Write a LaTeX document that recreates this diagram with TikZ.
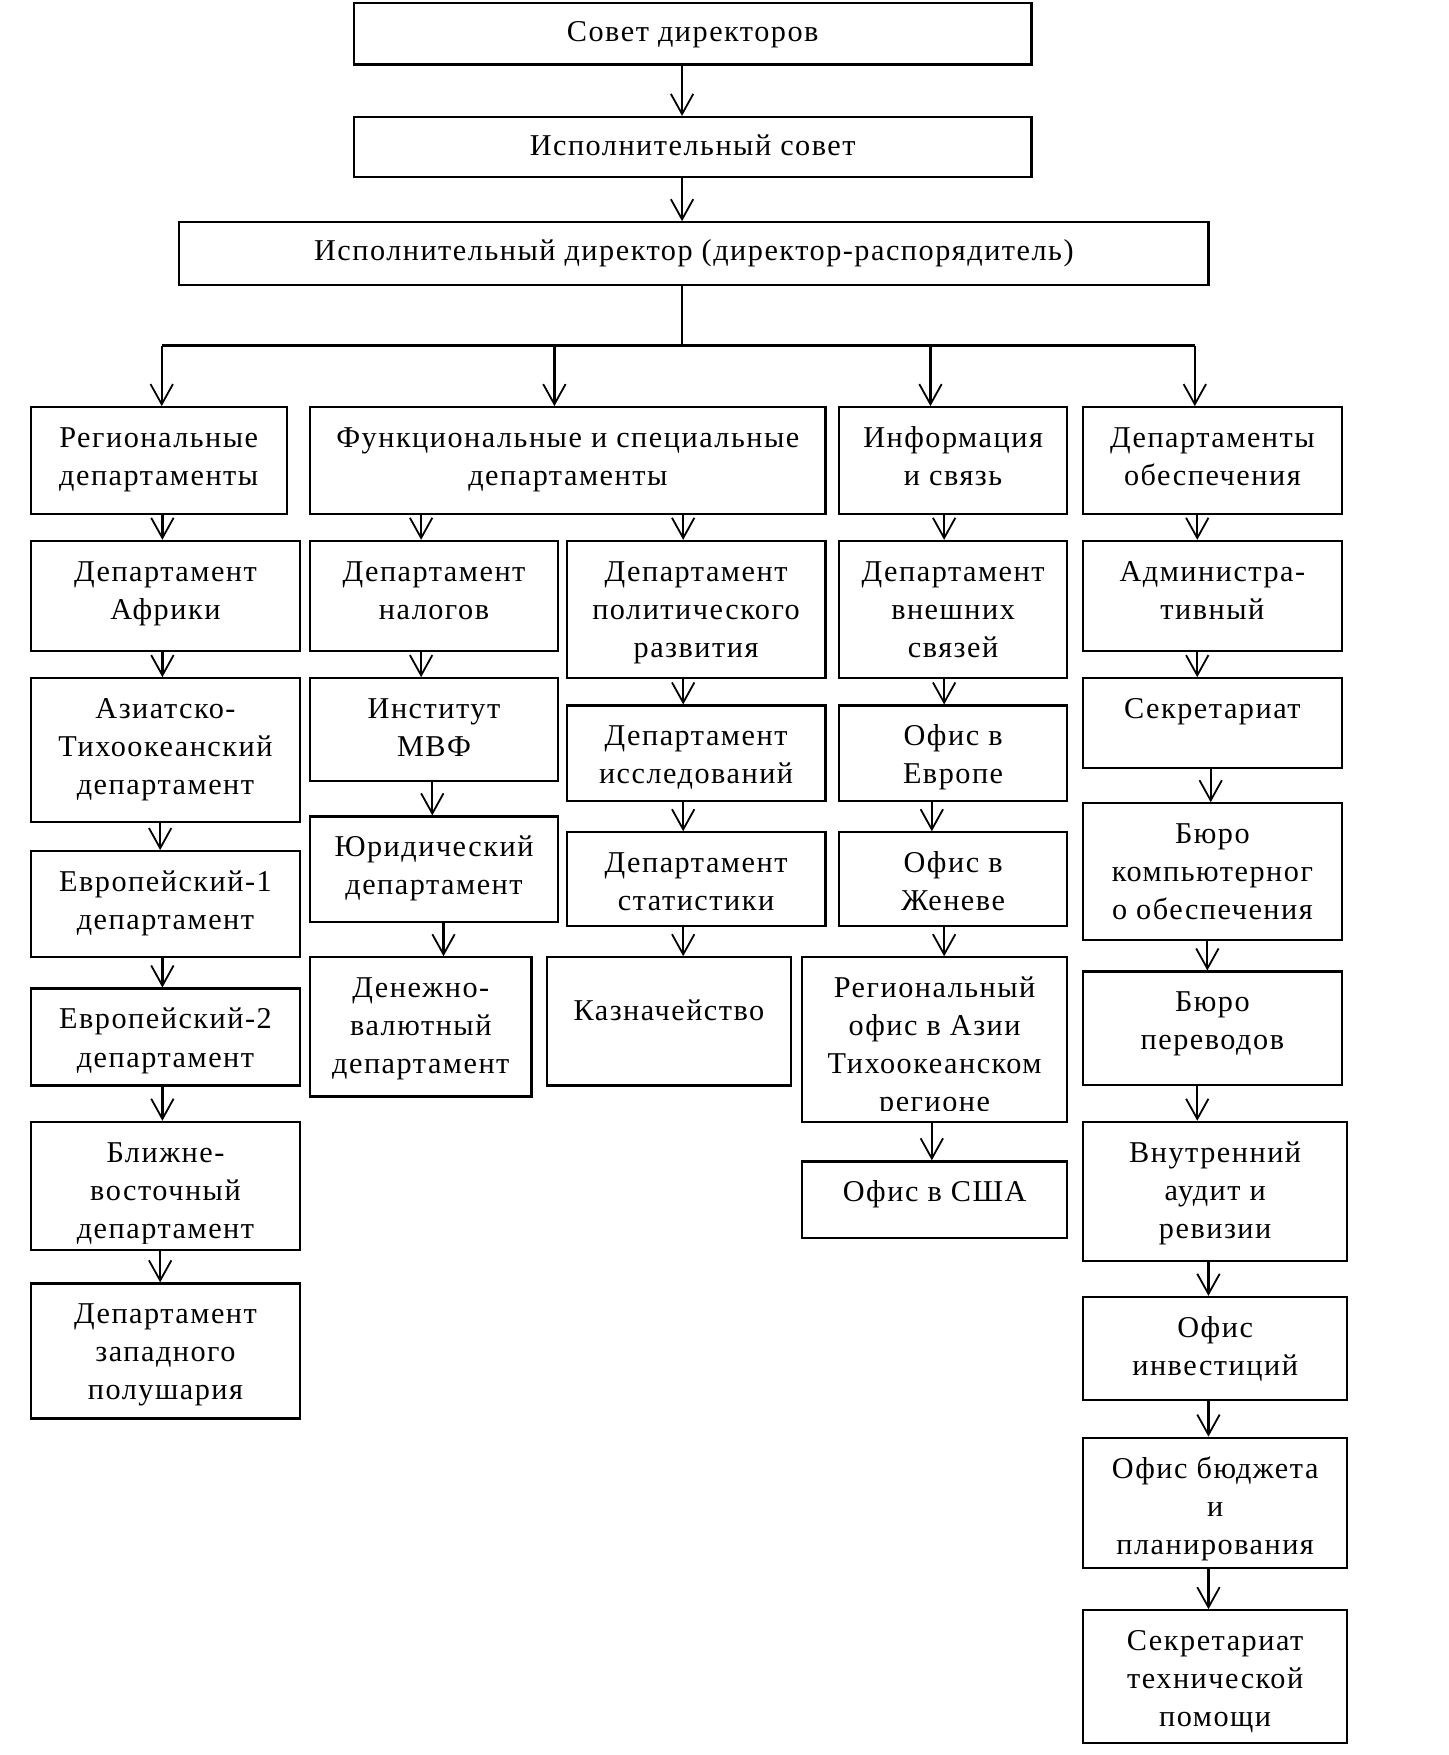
\documentclass[tikz,border=0pt]{standalone}
\usepackage{fontspec}
\setmainfont{Liberation Serif}[LetterSpace=5.0]
\usetikzlibrary{arrows.meta}
\newlength\ulen
\setlength\ulen{0.5pt}
\def\clipm{7}
\tikzset{
  box/.style={draw, line width=1pt, rectangle, inner sep=0pt, anchor=north west},
  txt/.style={inner sep=0pt, anchor=base, font=\fontsize{13.5}{17}\selectfont},
  arr/.style={line width=1pt, -{Straight Barb[length=9pt,width=10pt,line width=0.8pt]}},
  bus/.style={line width=1.1pt}
}
% optional baseline offset; name, x, y, w, h, text
\newcommand\orgbox[7][37]{%
  \node[box, minimum width=#5\ulen, minimum height=#6\ulen] (#2) at (#3,#4) {};
  \begin{scope}
    \clip (#2.north west) rectangle ([yshift=\clipm\ulen]#2.south east);
    \node[txt] (#2t) at ([yshift=-#1\ulen]#2.north) {\parbox[t]{#5\ulen}{\centering #7}};
  \end{scope}}
\newcommand\conn[3]{\draw[arr] (#1.south -| c#3) -- (#2.north -| c#3);}
\begin{document}
\begin{tikzpicture}[x=0.5pt,y=-0.5pt]
\useasboundingbox (0,0) rectangle (1293.75,1567);
\foreach \xx in {143,145,376,386,396,609,610,832,843,1069,1078,1079,1081}{\coordinate (c\xx) at (\xx,0);}
% top
\orgbox[35]{top}{315}{2}{605}{54.5}{Совет директоров}
\orgbox[35]{exc}{315}{103.5}{605}{53.5}{Исполнительный совет}
\orgbox[35]{dir}{159}{197.5}{919}{56}{Исполнительный директор (директор-распорядитель)}
% level 1
\orgbox{reg}{26.5}{362.6}{228.5}{95.5}{Региональные\\департаменты}
\orgbox{fun}{276}{362.6}{460}{95.5}{Функциональные и специальные\\департаменты}
\orgbox{inf}{748}{362.6}{204}{95.5}{Информация\\и связь}
\orgbox{obe}{966}{362.6}{231}{95.5}{Департаменты\\обеспечения}
% column 1
\orgbox{afr}{26.5}{482}{240.5}{98.5}{Департамент\\Африки}
\orgbox{asia}{26.5}{604.6}{240.5}{128.5}{Азиатско-\\Тихоокеанский\\департамент}
\orgbox{eua}{26.5}{759}{240.5}{94.5}{Европейский-1\\департамент}
\orgbox{eub}{26.5}{881.7}{240.5}{86.5}{Европейский-2\\департамент}
\orgbox{mid}{26.5}{1000.7}{240.5}{114.6}{Ближне-\\восточный\\департамент}
\orgbox{west}{26.5}{1145}{240.5}{120.6}{Департамент\\западного\\полушария}
% column 2a
\orgbox{tax}{276}{482}{221}{98.5}{Департамент\\налогов}
\orgbox{imf}{276}{604.6}{221}{91.7}{Институт\\МВФ}
\orgbox{law}{276}{728}{221}{94}{Юридический\\департамент}
\orgbox{mon}{276}{853.8}{197.5}{124.2}{Денежно-\\валютный\\департамент}
% column 2b
\orgbox{pol}{505}{482}{231}{122.6}{Департамент\\политического\\развития}
\orgbox{res}{505}{629}{231}{85.3}{Департамент\\исследований}
\orgbox{stat}{505}{742.2}{231}{83.7}{Департамент\\статистики}
\orgbox[57]{tre}{487.6}{853.8}{217.4}{114.5}{Казначейство}
% column 3
\orgbox{ext}{748}{482}{204}{122.6}{Департамент\\внешних\\связей}
\orgbox{eur}{748}{629}{204}{85.3}{Офис в\\Европе}
\orgbox{gen}{748}{742.2}{204}{83.7}{Офис в\\Женеве}
\def\clipm{11}
\orgbox{apr}{715}{853.8}{237}{146.9}{Региональный\\офис в Азии\\Тихоокеанском\\регионе}
\def\clipm{7}
\orgbox{usa}{715}{1036}{237}{68.2}{Офис в США}
% column 4
\orgbox{adm}{966}{482}{231}{98.5}{Администра-\\тивный}
\orgbox{sec}{966}{604.6}{231}{80.2}{Секретариат}
\orgbox{comp}{966}{716.3}{231}{122}{Бюро\\компьютерног\\о обеспечения}
\orgbox{trn}{966}{866.5}{231}{101.5}{Бюро\\переводов}
\orgbox{aud}{966}{1000.7}{236}{124}{Внутренний\\аудит и\\ревизии}
\orgbox{inv}{966}{1157}{236}{92.3}{Офис\\инвестиций}
\orgbox{bud}{966}{1282.7}{236}{116.1}{Офис бюджета\\и\\планирования}
\orgbox{tech}{966}{1436.8}{236}{118.3}{Секретариат\\технической\\помощи}
% top connectors
\conn{top}{exc}{609}
\conn{exc}{dir}{609}
\coordinate (busM) at (609,308.6);
\coordinate (busA) at (144.4,308.6);
\coordinate (busB) at (495,308.6);
\coordinate (busC) at (830.8,308.6);
\coordinate (busD) at (1066.8,308.6);
\draw[bus] (dir.south -| busM) -- (busM);
\draw[bus] (busA) -- (busD);
\draw[arr] (busA) -- (reg.north -| busA);
\draw[arr] (busB) -- (fun.north -| busB);
\draw[arr] (busC) -- (inf.north -| busC);
\draw[arr] (busD) -- (obe.north -| busD);
% column 1
\conn{reg}{afr}{145}
\conn{afr}{asia}{145}
\conn{asia}{eua}{143}
\conn{eua}{eub}{145}
\conn{eub}{mid}{145}
\conn{mid}{west}{143}
% column 2
\conn{fun}{tax}{376}
\conn{tax}{imf}{376}
\conn{imf}{law}{386}
\conn{law}{mon}{396}
\conn{fun}{pol}{610}
\conn{pol}{res}{610}
\conn{res}{stat}{610}
\conn{stat}{tre}{610}
% column 3
\conn{inf}{ext}{843}
\conn{ext}{eur}{843}
\conn{eur}{gen}{832}
\conn{gen}{apr}{843}
\conn{apr}{usa}{832}
% column 4
\conn{obe}{adm}{1069}
\conn{adm}{sec}{1069}
\conn{sec}{comp}{1081}
\conn{comp}{trn}{1078}
\conn{trn}{aud}{1069}
\conn{aud}{inv}{1079}
\conn{inv}{bud}{1079}
\conn{bud}{tech}{1079}
\end{tikzpicture}
\end{document}
